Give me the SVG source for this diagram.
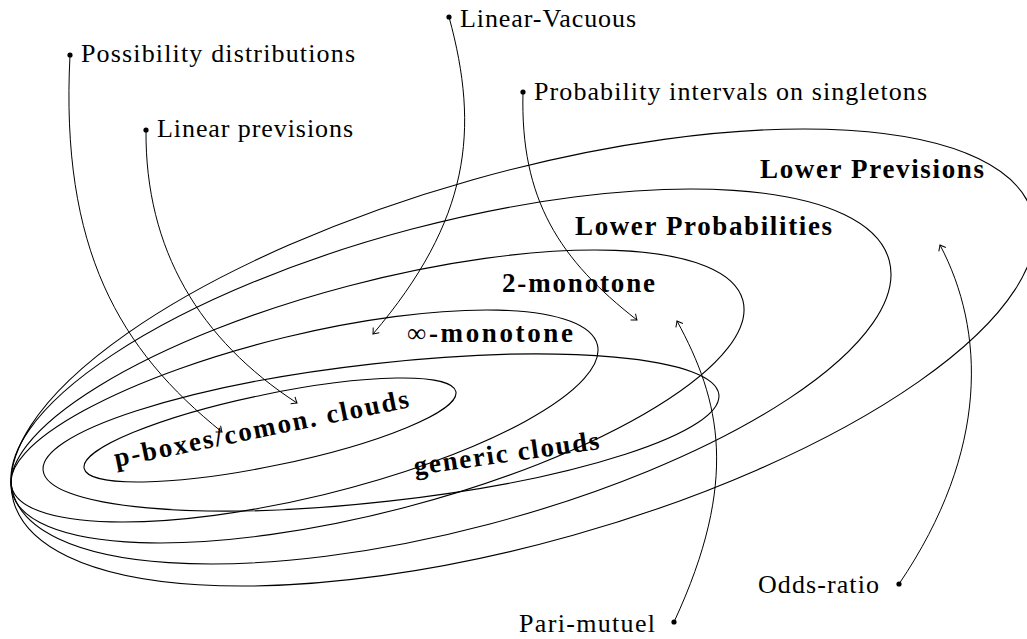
<svg xmlns="http://www.w3.org/2000/svg" width="1027" height="639" viewBox="0 0 1027 639">
<style>
.set{fill:none;stroke:#000;stroke-width:1.1}
.conn{fill:none;stroke:#000;stroke-width:1}
.lbl{font-family:"Liberation Serif","DejaVu Serif",serif;font-size:26px;fill:#000}
.bold{font-family:"Liberation Serif","DejaVu Serif",serif;font-size:27px;font-weight:bold;fill:#000}
.dot{fill:#000}
</style>
<defs>
<marker id="to" viewBox="-6 -5 7 10" refX="0" refY="0" markerWidth="7" markerHeight="10" markerUnits="userSpaceOnUse" orient="auto">
<path d="M-5,-4 Q-1.5,-1 0,0 Q-1.5,1 -5,4" fill="none" stroke="#000" stroke-width="1"/>
</marker>
</defs>
<rect width="1027" height="639" fill="#fff"/>

<g id="lower-previsions">
<ellipse class="set" cx="523" cy="357.5" rx="529.4" ry="184.7" transform="rotate(-15.74 523 357.5)"/>
<text class="bold" x="760" y="178" textLength="224">Lower Previsions</text>
</g>
<g id="lower-probabilities">
<ellipse class="set" cx="451" cy="376.5" rx="453.3" ry="152.5" transform="rotate(-14.8 451 376.5)"/>
<text class="bold" x="575" y="235" textLength="257">Lower Probabilities</text>
</g>
<g id="two-monotone">
<ellipse class="set" cx="377.5" cy="396.5" rx="377.8" ry="114.3" transform="rotate(-14.73 377.5 396.5)"/>
<text class="bold" x="502" y="292" textLength="153">2-monotone</text>
</g>
<g id="inf-monotone">
<ellipse class="set" cx="304.5" cy="416" rx="301.4" ry="81" transform="rotate(-13.63 304.5 416)"/>
<text class="bold" x="407" y="342" textLength="166"><tspan font-weight="normal">∞</tspan>-monotone</text>
</g>
<g id="generic-clouds">
<ellipse class="set" cx="381" cy="432.5" rx="340" ry="69.1" transform="rotate(-6.41 381 432.5)"/>
<text class="bold" x="415" y="475" textLength="187" transform="rotate(-8 415 475)">generic clouds</text>
</g>
<g id="p-boxes">
<ellipse class="set" cx="270" cy="430" rx="189.8" ry="35.8" transform="rotate(-11.67 270 430)"/>
<text class="bold" x="116" y="467" textLength="300" transform="rotate(-11.5 116 467)">p-boxes/comon. clouds</text>
</g>

<g id="possibility">
<circle class="dot" cx="70" cy="55" r="2.6"/>
<text class="lbl" x="81" y="62" textLength="274">Possibility distributions</text>
</g>
<g id="linear-previsions">
<circle class="dot" cx="146" cy="130" r="2.6"/>
<text class="lbl" x="157" y="137" textLength="196">Linear previsions</text>
</g>
<g id="linear-vacuous">
<circle class="dot" cx="449" cy="17" r="2.6"/>
<text class="lbl" x="460" y="27" textLength="176">Linear-Vacuous</text>
</g>
<g id="prob-intervals">
<circle class="dot" cx="523" cy="92" r="2.6"/>
<text class="lbl" x="534" y="100" textLength="393">Probability intervals on singletons</text>
</g>
<g id="odds-ratio">
<circle class="dot" cx="899" cy="584" r="2.6"/>
<text class="lbl" x="758" y="593" textLength="121">Odds-ratio</text>
</g>
<g id="pari-mutuel">
<circle class="dot" cx="674" cy="622" r="2.6"/>
<text class="lbl" x="519" y="632" textLength="136">Pari-mutuel</text>
</g>

<g id="connectors">
<path class="conn" marker-end="url(#to)" d="M70,55 C60,250 120,350 222,432"/>
<path class="conn" marker-end="url(#to)" d="M146,130 C145,250 200,340 297,403"/>
<path class="conn" marker-end="url(#to)" d="M449,17 C480,130 470,220 373,334"/>
<path class="conn" marker-end="url(#to)" d="M523,92 C520,200 560,260 637,320"/>
<path class="conn" marker-end="url(#to)" d="M674,622 C740,480 720,400 677,321"/>
<path class="conn" marker-end="url(#to)" d="M899,584 C990,450 985,330 940,245"/>
</g>
</svg>
